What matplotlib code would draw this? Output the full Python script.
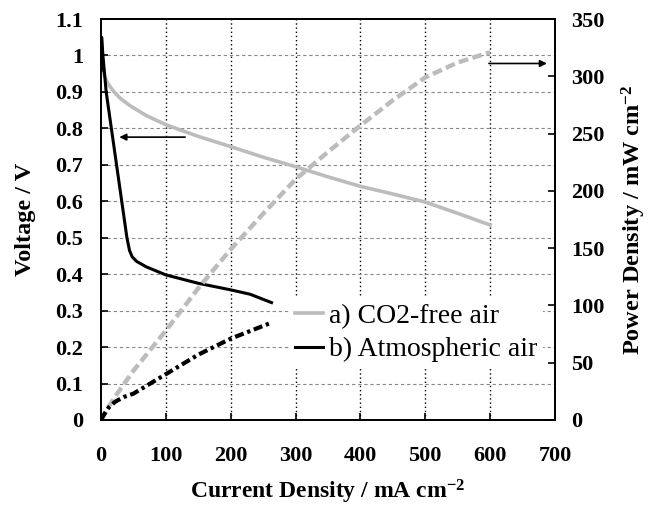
import numpy as np
import matplotlib
matplotlib.use("Agg")
import matplotlib.pyplot as plt

plt.rcParams["font.family"] = ["Liberation Serif", "DejaVu Serif"]
plt.rcParams["mathtext.fontset"] = "custom"
plt.rcParams["mathtext.rm"] = "Liberation Serif:bold"
plt.rcParams["mathtext.bf"] = "Liberation Serif:bold"
plt.rcParams["mathtext.it"] = "Liberation Serif:bold"

# Voltage curves (current density mA/cm2, voltage V)
i_co2free = [0.5, 2, 5, 10, 20, 30, 45, 70, 100, 150, 200, 250, 300, 350, 400, 450, 500, 550, 600]
v_co2free = [1.0, 0.97, 0.945, 0.925, 0.9, 0.882, 0.862, 0.835, 0.81, 0.778, 0.75, 0.721, 0.695,
             0.667, 0.641, 0.62, 0.598, 0.567, 0.535]

i_atm = [0.5, 1, 3, 8, 16, 24, 32, 40, 44, 48, 55, 70, 100, 150, 200, 230, 263]
v_atm = [0.96, 1.05, 1.0, 0.9, 0.8, 0.7, 0.6, 0.5, 0.465, 0.448, 0.435, 0.42, 0.398, 0.375, 0.357,
         0.345, 0.322]

# Power density curves (mW/cm2)
ip_co2free = [0, 10, 20, 50, 100, 150, 200, 250, 300, 350, 400, 450, 500, 550, 600]
p_co2free = [0, 10, 19, 43, 78, 115, 149, 180, 210, 234, 257, 279, 299, 312, 321]

ip_atm = [0, 5, 12, 22, 35, 50, 100, 150, 200, 263]
p_atm = [0, 5, 11, 16, 20, 23, 40, 57, 71, 85]

fig = plt.figure(figsize=(6.49, 5.07), dpi=100)
ax = fig.add_axes([0.1556, 0.1716, 0.6994, 0.7909])
ax2 = ax.twinx()

light = "#bcbcbc"

l1, = ax.plot(i_co2free, v_co2free, color=light, lw=2.6, label="a) CO2-free air")
l2, = ax.plot(i_atm, v_atm, color="black", lw=2.2, label="b) Atmospheric air")

ax2.plot(ip_co2free, p_co2free, color=light, lw=3.2, linestyle=(0, (2.2, 1.0)))
ax2.plot(ip_atm, p_atm, color="black", lw=3.0, linestyle=(0, (2.2, 0.9, 0.8, 0.9)))

ax.set_xlim(0, 700)
ax.set_ylim(0, 1.1)
ax2.set_ylim(0, 350)
ax.set_xticks(np.arange(0, 701, 100))
ax.set_yticks(np.round(np.arange(0, 1.11, 0.1), 1))
ax.set_yticklabels(["0", "0.1", "0.2", "0.3", "0.4", "0.5", "0.6", "0.7", "0.8", "0.9", "1", "1.1"])
ax2.set_yticks(np.arange(0, 351, 50))

# grid
for x in range(100, 700, 100):
    ax.axvline(x, color="black", lw=1.0, linestyle=(0, (1, 2)), zorder=0.5)
for y in np.arange(0.1, 1.05, 0.1):
    ax.axhline(y, color="#888888", lw=0.8, linestyle=(0, (3, 2.5)), zorder=0.5)

ax.tick_params(axis="both", direction="in", length=5, width=1.2)
ax.tick_params(axis="y", pad=13)
ax.tick_params(axis="x", pad=19)
ax2.tick_params(axis="y", direction="in", length=5, width=1.2, pad=12)
for lab in ax.get_xticklabels() + ax.get_yticklabels() + ax2.get_yticklabels():
    lab.set_fontsize(16)
    lab.set_fontweight("bold")

for sp in ax.spines.values():
    sp.set_linewidth(1.3)
for sp in ax2.spines.values():
    sp.set_linewidth(1.3)

ax.set_xlabel("Current Density / mA cm$^{-2}$", fontsize=17, fontweight="bold", labelpad=8)
ax.set_ylabel("Voltage / V", fontsize=17.5, fontweight="bold", labelpad=14)
ax2.set_ylabel("Power Density / mW cm$^{-2}$", fontsize=17.5, fontweight="bold", labelpad=11)

# arrows
ax.annotate("", xy=(24, 0.776), xytext=(134, 0.776),
            arrowprops=dict(arrowstyle="-|>", color="black", lw=1.2, mutation_scale=10))
ax.annotate("", xy=(692, 0.978), xytext=(594, 0.978),
            arrowprops=dict(arrowstyle="-|>", color="black", lw=1.2, mutation_scale=10))

leg = ax2.legend(handles=[l1, l2], loc="upper left", bbox_to_anchor=(0.416, 0.305),
                 frameon=True, fontsize=20, handlelength=1.0, handletextpad=0.2,
                 borderpad=0.2, labelspacing=0.3, borderaxespad=0)
leg.get_frame().set_edgecolor("none")
leg.get_frame().set_facecolor("white")
leg.get_frame().set_alpha(1)

fig.savefig("out.png", dpi=100)
